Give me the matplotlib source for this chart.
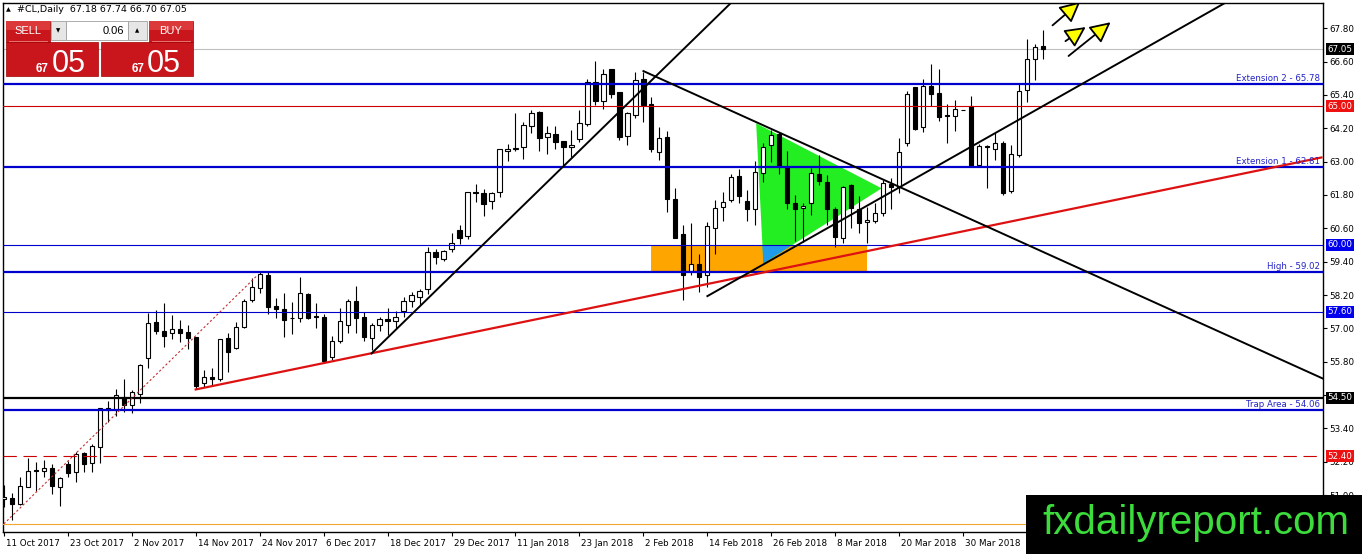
import matplotlib
matplotlib.use("Agg")
import matplotlib.pyplot as plt
import matplotlib.transforms as mtransforms
from matplotlib.patches import Rectangle, Polygon, FancyArrowPatch
import numpy as np

plt.rcParams['font.family'] = ['DejaVu Sans']

# daily OHLC, #CL, 11 Oct 2017 .. 13 Apr 2018
opens = [50.85, 50.91, 50.67, 51.30, 51.90, 51.88, 51.96, 51.30, 52.11, 51.82,
         52.50, 52.14, 52.72, 54.12, 54.06, 54.54, 54.23, 54.64, 55.92, 57.22,
         56.90, 56.82, 56.96, 56.88, 56.70, 55.02, 55.24, 55.18, 56.66, 56.30,
         57.06, 58.02, 58.47, 58.92, 57.80, 57.68, 57.38, 57.36, 58.23, 57.43,
         57.42, 55.96, 56.54, 57.12, 57.98, 57.42, 56.64, 57.11, 57.32, 57.25,
         57.61, 57.97, 58.14, 58.41, 59.73, 59.48, 59.84, 60.54, 60.33, 61.92,
         61.86, 61.57, 61.89, 63.37, 63.47, 63.51, 64.28, 64.78, 63.87, 64.00,
         63.73, 63.52, 63.80, 64.35, 65.85, 65.19, 66.33, 65.51, 63.93, 64.67,
         65.99, 65.06, 63.33, 63.88, 61.65, 60.38, 59.06, 59.30, 58.92, 60.62,
         61.38, 61.62, 62.48, 61.58, 61.28, 62.58, 63.60, 63.99, 62.82, 61.50,
         61.33, 61.50, 62.55, 62.28, 61.29, 60.24, 62.16, 61.28, 60.81, 60.87,
         61.14, 62.19, 62.10, 63.66, 65.67, 64.23, 65.72, 65.48, 64.66, 64.64,
         64.85, 65.00, 62.88, 63.55, 63.47, 63.66, 61.95, 63.24, 65.57, 66.71,
         67.18]
highs = [51.36, 51.06, 51.64, 52.35, 52.20, 52.26, 52.11, 51.64, 52.24, 52.56,
         52.56, 52.83, 54.14, 54.40, 54.82, 55.18, 54.78, 55.70, 57.54, 57.66,
         57.90, 57.48, 57.30, 57.12, 56.70, 55.50, 55.56, 56.60, 56.82, 57.24,
         58.05, 58.80, 59.02, 59.02, 58.08, 58.26, 57.96, 58.86, 58.26, 57.90,
         57.52, 56.72, 57.72, 58.05, 58.52, 57.60, 57.18, 57.42, 57.72, 57.64,
         58.14, 58.32, 58.40, 59.94, 59.87, 59.82, 60.44, 60.72, 61.89, 62.19,
         62.01, 61.92, 63.44, 63.63, 64.76, 64.44, 64.86, 64.81, 64.29, 64.29,
         63.73, 64.14, 64.85, 65.99, 66.62, 66.33, 66.35, 65.51, 64.77, 66.23,
         66.23, 65.34, 64.26, 64.10, 62.04, 60.72, 60.78, 59.66, 60.84, 61.62,
         61.92, 62.54, 62.72, 61.98, 63.03, 63.68, 64.14, 64.08, 63.39, 61.80,
         61.52, 62.76, 63.24, 62.52, 61.35, 62.12, 62.19, 61.76, 61.38, 61.50,
         62.34, 62.40, 63.84, 65.55, 65.69, 65.96, 66.51, 66.35, 65.09, 65.21,
         64.85, 65.36, 63.63, 63.60, 64.04, 63.75, 63.60, 65.81, 67.40, 67.25,
         67.74]
lows = [50.56, 50.10, 50.63, 51.28, 51.16, 51.64, 51.04, 50.62, 51.64, 51.48,
        51.84, 51.84, 52.17, 53.64, 53.86, 53.98, 53.94, 54.32, 55.58, 56.78,
        56.34, 56.62, 56.50, 56.24, 54.80, 54.88, 54.92, 55.12, 55.44, 56.24,
        57.00, 57.96, 58.28, 57.51, 57.39, 56.70, 56.80, 57.24, 57.32, 57.00,
        55.80, 55.86, 56.48, 56.84, 56.82, 56.55, 56.22, 56.91, 56.76, 57.03,
        57.42, 57.78, 57.84, 58.23, 59.30, 59.43, 59.76, 60.03, 60.21, 61.54,
        61.05, 61.29, 61.74, 63.03, 63.39, 63.08, 64.04, 63.39, 63.28, 63.44,
        62.82, 63.18, 63.69, 64.29, 65.03, 64.89, 65.30, 63.77, 63.60, 64.58,
        64.44, 63.36, 63.06, 61.20, 60.24, 58.02, 58.92, 58.32, 58.50, 59.66,
        60.87, 61.56, 61.50, 60.87, 60.72, 62.28, 63.00, 62.55, 61.28, 60.15,
        60.12, 61.08, 62.16, 60.72, 59.94, 60.08, 60.60, 60.42, 60.08, 60.78,
        61.04, 61.28, 61.88, 63.56, 64.13, 64.07, 65.00, 64.47, 63.68, 64.11,
        64.85, 62.81, 62.84, 62.04, 63.06, 61.80, 61.88, 63.18, 65.15, 65.93,
        66.70]
closes = [50.94, 50.67, 51.34, 51.85, 51.85, 51.96, 51.34, 51.60, 51.78, 52.47,
          52.11, 52.77, 54.12, 54.06, 54.59, 54.23, 54.70, 55.67, 57.18, 56.90,
          56.74, 56.96, 56.84, 56.66, 54.92, 55.24, 55.19, 56.60, 56.16, 57.04,
          57.98, 58.50, 58.95, 57.78, 57.71, 57.30, 57.36, 58.26, 57.39, 57.42,
          55.84, 56.54, 57.26, 57.98, 57.38, 56.70, 57.11, 57.32, 57.25, 57.42,
          57.97, 58.19, 58.33, 59.73, 59.55, 59.79, 60.06, 60.26, 61.89, 61.86,
          61.46, 61.86, 63.44, 63.44, 63.49, 64.32, 64.76, 63.84, 64.04, 63.69,
          63.51, 63.60, 64.40, 65.85, 65.18, 66.17, 65.45, 63.89, 64.74, 65.93,
          65.04, 63.45, 63.86, 61.65, 60.24, 58.92, 59.30, 58.86, 60.69, 61.34,
          61.56, 62.43, 61.76, 61.28, 62.61, 63.51, 63.96, 62.84, 61.50, 61.28,
          61.41, 62.58, 62.31, 61.29, 60.27, 62.07, 61.32, 60.80, 60.90, 61.14,
          62.22, 62.07, 63.36, 65.45, 64.16, 65.72, 65.45, 64.61, 64.65, 64.88,
          64.85, 62.85, 63.56, 63.54, 63.68, 61.86, 63.27, 65.55, 66.71, 67.11,
          67.05]

tick_labels = ["11 Oct 2017", "23 Oct 2017", "2 Nov 2017", "14 Nov 2017", "24 Nov 2017",
               "6 Dec 2017", "18 Dec 2017", "29 Dec 2017", "11 Jan 2018", "23 Jan 2018",
               "2 Feb 2018", "14 Feb 2018", "26 Feb 2018", "8 Mar 2018", "20 Mar 2018",
               "30 Mar 2018"]

# horizontal levels: price, colour, width, style, caption
levels = [65.78, 65.00, 62.81, 60.00, 59.02, 57.60, 54.50, 54.06, 52.40, 49.96]
level_colors = ['#0000CD', '#CC0000', '#0000CD', '#0000CD', '#0000CD', '#0000CD',
                'black', '#0000CD', '#CC0000', '#F0A830']
level_widths = [1.6, 0.8, 1.6, 0.8, 1.6, 0.8, 1.6, 1.6, 0.8, 0.8]
level_styles = ['-', '-', '-', '-', '-', '-', '-', '-', (0, (12, 6)), '-']
level_names = ["Extension 2 - 65.78", "", "Extension 1 - 62.81", "", "High - 59.02",
               "", "", "Trap Area - 54.06", "", ""]

# price tags on the right scale
tag_values = [67.05, 65.00, 60.00, 57.60, 54.50, 52.40]
tag_colors = ['black', '#EE1111', '#0000EE', '#0000EE', 'black', '#EE1111']
bid = 67.05

# drawn objects (bar index, price)
red_trend = [(24.0, 54.80), (164.8, 63.15)]
steep_trend = [(46.0, 56.10), (95.0, 69.85)]
down_trend = [(80.0, 66.26), (165.0, 55.19)]
up_trend = [(88.0, 58.16), (165.0, 70.71)]
dotted_trend = [(0.0, 49.96), (31.75, 58.92)]
box_zone = [(81.0, 59.02), (108.0, 60.00)]
triangle = [(94.1, 64.38), (95.0, 59.34), (109.8, 62.04)]
arrows = [((130.9, 67.84), (134.9, 68.82)),
          ((132.5, 67.28), (135.6, 67.90)),
          ((132.9, 66.74), (138.7, 68.08))]

W, H = 1362, 554
fig = plt.figure(figsize=(W / 100, H / 100), dpi=100, facecolor='white')
L, R, T, B = 3, 1322.7, 3, 532
ax = fig.add_axes([L / W, 1 - B / H, (R - L) / W, (B - T) / H])
ax.set_xlim(-0.1, 164.96)
ax.set_ylim(49.67, 68.71)

n = len(opens)
x = np.arange(n)
o = np.array(opens); c = np.array(closes)
hi = np.array(highs); lo = np.array(lows)

# fills first (behind candles)
ax.add_patch(Rectangle(box_zone[0], box_zone[1][0] - box_zone[0][0],
                       box_zone[1][1] - box_zone[0][1], fc='#FFA500', ec='none', zorder=1))
tri = Polygon(triangle, closed=True, fc='#22EE22', ec='none', zorder=1.1)
ax.add_patch(tri)
tri2 = Polygon(triangle, closed=True, fc='#1E9BEB', ec='none', zorder=1.2)
clip_rect = Rectangle(box_zone[0], box_zone[1][0] - box_zone[0][0],
                      box_zone[1][1] - box_zone[0][1], transform=ax.transData)
ax.add_patch(tri2)
tri2.set_clip_path(clip_rect)

# candles
ax.vlines(x, lo, hi, color='black', lw=0.8, zorder=3)
body_lo = np.minimum(o, c)
body_h = np.maximum(np.abs(c - o), 0.015)
colors = ['white' if cc > oo else 'black' for oo, cc in zip(o, c)]
ax.bar(x, body_h, bottom=body_lo, width=0.52, color=colors, edgecolor='black',
       linewidth=0.8, zorder=3.5)

# levels
for val, col, lw, ls, name in zip(levels, level_colors, level_widths, level_styles, level_names):
    ax.axhline(val, color=col, lw=lw, ls=ls, zorder=4)
    if name:
        ax.text(164.6, val + 0.04, name, color='#2323C8', fontsize=6.2, ha='right',
                va='bottom', zorder=5)
ax.axhline(bid, color='#C0C0C0', lw=0.8, zorder=2)

def ray(pts, **kw):
    (x0, y0), (x1, y1) = pts
    ax.plot([x0, x1], [y0, y1], **kw)

ray(red_trend, color='#DD1111', lw=1.6, zorder=4.5)
ray(steep_trend, color='black', lw=1.4, zorder=4.5)
ray(down_trend, color='black', lw=1.4, zorder=4.5)
ray(up_trend, color='black', lw=1.4, zorder=4.5)
ray(dotted_trend, color='#C03030', lw=0.8, ls=(0, (2, 2)), zorder=4.5)

for a, b in arrows:
    ax.add_patch(FancyArrowPatch(a, b, arrowstyle='-|>,head_length=1.4,head_width=0.7',
                                 mutation_scale=9, fc='#FFFF00', ec='black', lw=1.3,
                                 zorder=6))

# axes styling
for s in ax.spines.values():
    s.set_color('black'); s.set_linewidth(1)
ax.yaxis.tick_right()
yt = [51.0 + 1.2 * k for k in range(15)]
ax.set_yticks(yt)
ax.set_yticklabels(['%.2f' % v for v in yt])
ax.tick_params(axis='y', length=3, width=0.8, pad=1.5, labelsize=6.3, colors='black')
xt = list(range(0, len(tick_labels) * 8, 8))
ax.set_xticks(xt)
ax.set_xticklabels(tick_labels)
ax.tick_params(axis='x', length=3, width=0.8, pad=2, labelsize=6.3)
off = mtransforms.ScaledTranslation(2 / 100, 0, fig.dpi_scale_trans)
for lbl in ax.get_xticklabels():
    lbl.set_ha('left')
    lbl.set_transform(lbl.get_transform() + off)

tag_tr = mtransforms.blended_transform_factory(ax.transAxes, ax.transData)
for v, col in zip(tag_values, tag_colors):
    ax.text(1.0 + 4.5 / (R - L), v, '%.2f' % v, transform=tag_tr, color='white',
            fontsize=6.3, ha='left', va='center', zorder=8, clip_on=False,
            bbox=dict(boxstyle='square,pad=0.18', fc=col, ec='none'))

# overlay: header, one-click panel, watermark
ov = fig.add_axes([0, 0, 1, 1], zorder=10)
ov.set_xlim(0, W); ov.set_ylim(H, 0); ov.axis('off')
ov.text(6, 10, '\u25B2', fontsize=4.5, va='center')
ov.text(17, 10, '#CL,Daily  67.18 67.74 66.70 67.05', fontsize=6.8, va='center')

red = '#C8161C'
for x0, lbl in [(6, 'SELL'), (149, 'BUY')]:
    ov.add_patch(Rectangle((x0, 21), 44, 21, fc=red, ec='#A00000', lw=0.5))
    ov.add_patch(Rectangle((x0, 21), 44, 9, fc='#DC3A3A', ec='none'))
    ov.plot([x0 + 3, x0 + 41], [41, 41], color='#F08080', lw=0.6)
    ov.text(x0 + 22, 31, lbl, color='white', fontsize=8, ha='center', va='center',
            family='Liberation Sans')
ov.add_patch(Rectangle((51, 21), 15, 19, fc='#E6E6E6', ec='#A0A0A0', lw=0.6))
ov.add_patch(Rectangle((66, 21), 62, 19, fc='white', ec='#A0A0A0', lw=0.6))
ov.add_patch(Rectangle((128, 21), 19, 19, fc='#E6E6E6', ec='#A0A0A0', lw=0.6))
ov.text(58.5, 31, '\u25BC', fontsize=4, ha='center', va='center')
ov.text(137.5, 31, '\u25B2', fontsize=4, ha='center', va='center')
ov.text(124, 31, '0.06', fontsize=8, ha='right', va='center', family='Liberation Sans')
for x0 in (6, 101):
    ov.add_patch(Rectangle((x0, 42), 92, 34, fc=red, ec='#A00000', lw=0.5))
    ov.text(x0 + 43, 72, '67', color='white', fontsize=8.5, fontweight='bold',
            ha='right', va='baseline', family='Liberation Sans')
    ov.text(x0 + 46, 71.5, '05', color='white', fontsize=22, ha='left',
            va='baseline', family='Liberation Sans')

ov.add_patch(Rectangle((1026, 495), W - 1026, H - 495, fc='black', ec='none'))
ov.text((1026 + W) / 2 + 2, 523, 'fxdailyreport.com', color='#3CDC3C', fontsize=29,
        ha='center', va='center', family='Liberation Sans')

fig.savefig('out.png', dpi=100, facecolor='white')
